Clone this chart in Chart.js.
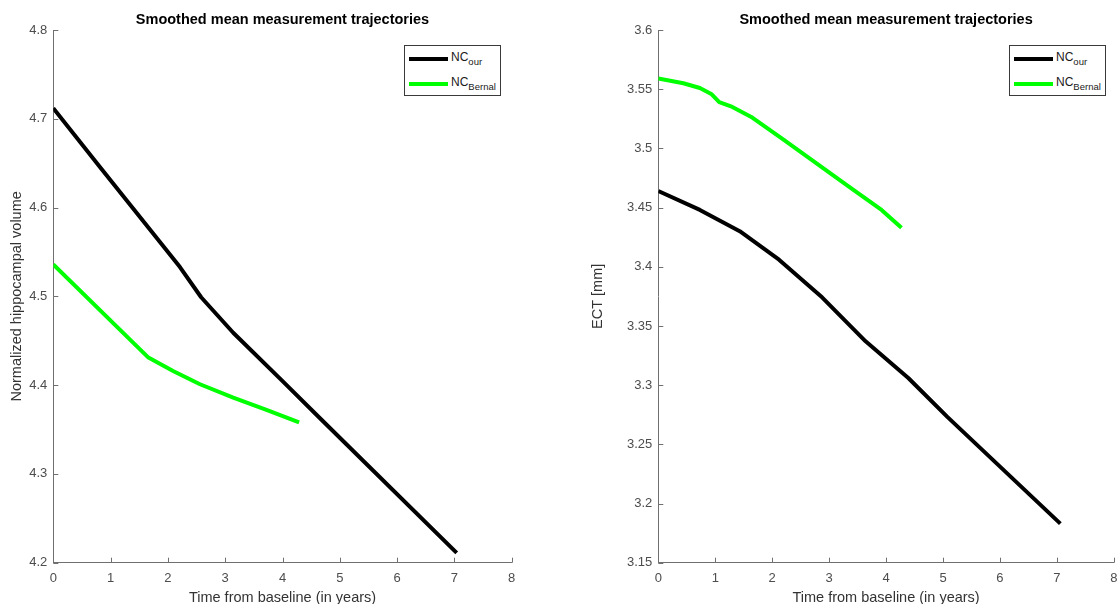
<!DOCTYPE html>
<html>
<head>
<meta charset="utf-8">
<script src="https://cdn.jsdelivr.net/npm/chart.js@4.4.1/dist/chart.umd.min.js"></script>
<style>
  html, body { margin: 0; padding: 0; background: #fff; overflow: hidden; }
  body { width: 1119px; height: 604px; position: relative; }
  canvas { position: absolute; top: 0; }
  #cvLeft { left: 0; }
  #cvRight { left: 560px; }
  .legend {
    position: absolute; box-sizing: border-box; background: #fff;
    border: 1px solid #3a3a3a; width: 97px; height: 51px;
    font-family: "Liberation Sans", Arial, sans-serif; color: #1a1a1a;
  }
  .legend .item { position: absolute; left: 4px; height: 20px; }
  .legend .swatch { position: absolute; left: 0; top: 8px; width: 39px; height: 4px; }
  .legend .lbl { position: absolute; left: 42px; top: 1px; font-size: 12px; white-space: nowrap; line-height: 14px; }
  .legend sub { font-size: 9.5px; vertical-align: -4px; line-height: 0; }
</style>
</head>
<body>
<canvas id="cvLeft" width="560" height="604"></canvas>
<canvas id="cvRight" width="565" height="604"></canvas>

<div class="legend" style="left:404px; top:45px;">
  <div class="item" style="top:3px;"><div class="swatch" style="background:#000"></div><div class="lbl">NC<sub>our</sub></div></div>
  <div class="item" style="top:28px;"><div class="swatch" style="background:#00ff00"></div><div class="lbl">NC<sub>Bernal</sub></div></div>
</div>
<div class="legend" style="left:1009px; top:45px;">
  <div class="item" style="top:3px;"><div class="swatch" style="background:#000"></div><div class="lbl">NC<sub>our</sub></div></div>
  <div class="item" style="top:28px;"><div class="swatch" style="background:#00ff00"></div><div class="lbl">NC<sub>Bernal</sub></div></div>
</div>

<script>
// ---- data: years from baseline and smoothed mean values ----
const plotTitle = 'Smoothed mean measurement trajectories';
const xAxisLabel = 'Time from baseline (in years)';
const xTicks = [0, 1, 2, 3, 4, 5, 6, 7, 8];

// hippocampal volume panel
const hippoYLabel = 'Normalized hippocampal volume';
const hippoYTicks = [4.2, 4.3, 4.4, 4.5, 4.6, 4.7, 4.8];
const hippoOurYears   = [0, 0.81, 1.69, 2.21, 2.58, 3.14, 4.01, 4.65, 7.04];
const hippoOurValues  = [4.712, 4.646, 4.575, 4.533, 4.499, 4.459, 4.404, 4.363, 4.211];
const hippoBernalYears  = [0, 1.66, 2.09, 2.56, 3.14, 3.72, 4.29];
const hippoBernalValues = [4.536, 4.431, 4.416, 4.401, 4.386, 4.372, 4.358];

// entorhinal cortical thickness panel
const ectYLabel = 'ECT [mm]';
const ectYTicks = [3.15, 3.2, 3.25, 3.3, 3.35, 3.4, 3.45, 3.5, 3.55, 3.6];
const ectOurYears   = [0, 0.73, 1.43, 2.12, 2.88, 3.64, 4.39, 5.08, 7.06];
const ectOurValues  = [3.464, 3.448, 3.430, 3.406, 3.374, 3.337, 3.306, 3.273, 3.183];
const ectBernalYears  = [0, 0.44, 0.73, 0.93, 1.07, 1.30, 1.65, 2.18, 2.76, 3.34, 3.92, 4.27];
const ectBernalValues = [3.559, 3.555, 3.551, 3.546, 3.539, 3.535, 3.526, 3.508, 3.488, 3.468, 3.448, 3.433];

const seriesNames = ['NC_our', 'NC_Bernal'];
const seriesColors = ['#000000', '#00ff00'];

// ---- styling ----
const FONT = '"Liberation Sans", Arial, Helvetica, sans-serif';
const AXIS_COLOR = '#707070';
const TICK_COLOR = '#4d4d4d';

function toPoints(xs, ys) {
  return xs.map((x, i) => ({ x: x, y: ys[i] }));
}
function fmt(v) {
  return String(parseFloat(v.toFixed(2)));
}

// Short tick marks pointing into the plot area
const inwardTicks = {
  id: 'inwardTicks',
  afterDraw(chart) {
    const ctx = chart.ctx;
    const area = chart.chartArea;
    const len = 5;
    ctx.save();
    ctx.strokeStyle = AXIS_COLOR;
    ctx.lineWidth = 1;
    ctx.beginPath();
    chart.scales.x.ticks.forEach(t => {
      const px = Math.round(chart.scales.x.getPixelForValue(t.value)) + 0.5;
      ctx.moveTo(px, area.bottom);
      ctx.lineTo(px, area.bottom - len);
    });
    chart.scales.y.ticks.forEach(t => {
      const py = Math.round(chart.scales.y.getPixelForValue(t.value)) + 0.5;
      ctx.moveTo(area.left, py);
      ctx.lineTo(area.left + len, py);
    });
    ctx.stroke();
    ctx.restore();
  }
};

function makeChart(canvasId, cfg) {
  const lineDefaults = {
    borderWidth: 4, pointRadius: 0, pointHoverRadius: 0, tension: 0,
    fill: false, borderJoinStyle: 'round', borderCapStyle: 'butt'
  };
  return new Chart(document.getElementById(canvasId), {
    type: 'line',
    data: {
      datasets: [
        Object.assign({ label: seriesNames[0], data: toPoints(cfg.ourX, cfg.ourY), borderColor: seriesColors[0] }, lineDefaults),
        Object.assign({ label: seriesNames[1], data: toPoints(cfg.bernalX, cfg.bernalY), borderColor: seriesColors[1] }, lineDefaults)
      ]
    },
    options: {
      responsive: false,
      animation: false,
      events: [],
      layout: { padding: { left: 0, right: cfg.padRight, top: 0, bottom: 0 } },
      plugins: {
        legend: { display: false },
        tooltip: { enabled: false },
        title: {
          display: true,
          text: plotTitle,
          fullSize: false,
          color: '#000',
          font: { family: FONT, size: 14.5, weight: 'bold', lineHeight: 1.2 },
          padding: { top: 11.7, bottom: 0.9 }
        }
      },
      scales: {
        x: {
          type: 'linear',
          min: xTicks[0], max: xTicks[xTicks.length - 1],
          afterBuildTicks: s => { s.ticks = xTicks.map(v => ({ value: v })); },
          afterFit: s => { s.height = 41.3; },
          grid: { display: false, drawTicks: false },
          border: { display: true, color: AXIS_COLOR, width: 1 },
          ticks: {
            color: TICK_COLOR, padding: 7.5, maxRotation: 0,
            font: { family: FONT, size: 13 },
            callback: v => fmt(v)
          },
          title: {
            display: true, text: xAxisLabel, color: '#333',
            font: { family: FONT, size: 14.5, lineHeight: 0.85 },
            padding: { top: 0, bottom: 0 }
          }
        },
        y: {
          type: 'linear',
          min: cfg.yTicks[0], max: cfg.yTicks[cfg.yTicks.length - 1],
          afterBuildTicks: s => { s.ticks = cfg.yTicks.map(v => ({ value: v })); },
          afterFit: s => { s.width = cfg.yAxisWidth; },
          grid: { display: false, drawTicks: false },
          border: { display: true, color: AXIS_COLOR, width: 1 },
          ticks: {
            color: TICK_COLOR, padding: 6,
            font: { family: FONT, size: 13 },
            callback: v => fmt(v)
          },
          title: {
            display: true, text: cfg.yLabel, color: '#333',
            font: { family: FONT, size: 14.5, lineHeight: 1.2 },
            padding: { top: cfg.yTitlePad, bottom: 0 }
          }
        }
      }
    },
    plugins: [inwardTicks]
  });
}

makeChart('cvLeft', {
  ourX: hippoOurYears, ourY: hippoOurValues,
  bernalX: hippoBernalYears, bernalY: hippoBernalValues,
  yTicks: hippoYTicks, yLabel: hippoYLabel,
  yAxisWidth: 53.3, yTitlePad: 8.5, padRight: 48.3
});

makeChart('cvRight', {
  ourX: ectOurYears, ourY: ectOurValues,
  bernalX: ectBernalYears, bernalY: ectBernalValues,
  yTicks: ectYTicks, yLabel: ectYLabel,
  yAxisWidth: 98.3, yTitlePad: 29, padRight: 8
});
</script>
</body>
</html>
